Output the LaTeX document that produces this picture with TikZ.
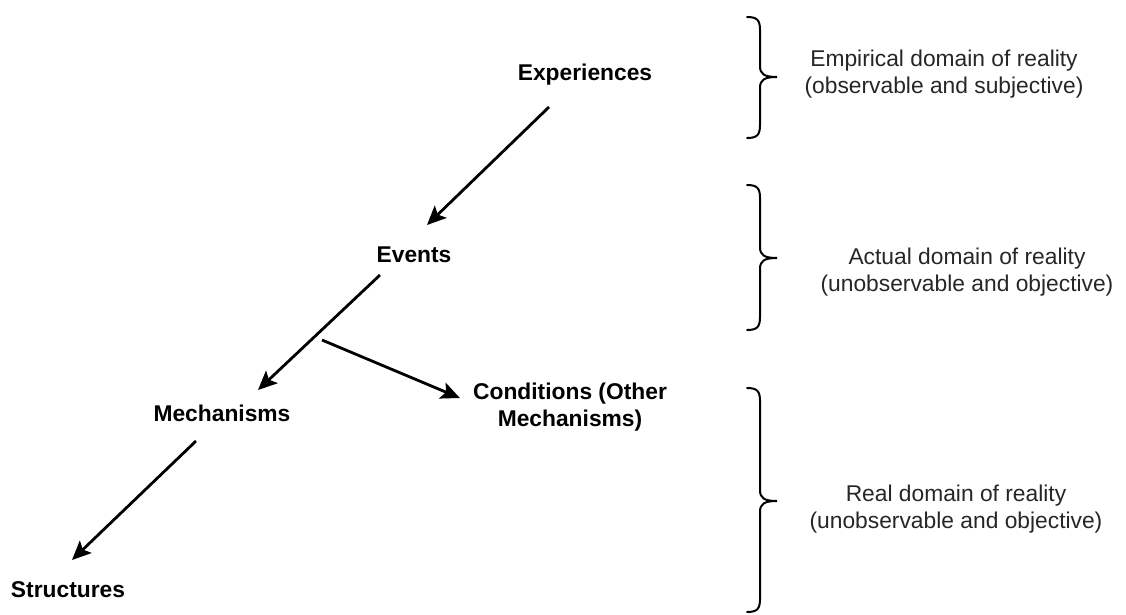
\documentclass[tikz,border=0pt]{standalone}
\usepackage{fontspec}
\setmainfont{Liberation Sans}
\usetikzlibrary{arrows.meta,calc}
\begin{document}
\begin{tikzpicture}[x=1pt,y=-1pt,
  lvl/.style={font=\fontsize{22.8}{27}\selectfont\bfseries, inner sep=0pt, align=center},
  dom/.style={font=\fontsize{22.8}{27}\selectfont, text=black!85, inner sep=0pt, align=center},
  arr/.style={line width=2.8pt, -{Stealth[length=19pt,width=17pt,inset=4pt]}},
  brc/.style={line width=2pt, line cap=round}]
\useasboundingbox (0,0) rectangle (1126,615);

% levels of the stratified ontology
\node[lvl] (exp) at (585,75) {Experiences};
\node[lvl] (ev)  at (414,255) {Events};
\node[lvl] (mech) at (222,413) {Mechanisms};
\node[lvl] (cond) at (570,407) {Conditions (Other\\Mechanisms)};
\node[lvl] (str) at (68,590) {Structures};

% causal arrows
\draw[arr] ($(exp)+(-36,32)$) -- ($(ev)+(13,-30)$);
\draw[arr] ($(ev)+(-34,20)$) -- ($(mech)+(36,-23)$);
\coordinate (branch) at ($(ev)+(-92,85)$);
\draw[arr] (branch) -- ($(cond.west)+(-13,-9)$);
\draw[arr] ($(mech)+(-26,28)$) -- ($(str)+(4,-30)$);

% domain labels
\node[dom] (emp) at (944,74) {Empirical domain of reality\\(observable and subjective)};
\node[dom] (act) at (967,272) {Actual domain of reality\\(unobservable and objective)};
\node[dom] (real) at (956,509) {Real domain of reality\\(unobservable and objective)};

% curly braces grouping the domains
\foreach \t/\m/\b in {17/77/138, 185/258/330, 388/501/612}{
  \draw[brc] (747,\t) .. controls (757,\t) and (760,\t+3) .. (760,\t+13)
    -- (760,\m-11) .. controls (760,\m-3) and (764,\m) .. (777,\m)
    .. controls (764,\m) and (760,\m+3) .. (760,\m+11)
    -- (760,\b-13) .. controls (760,\b-3) and (757,\b) .. (747,\b);
}
\end{tikzpicture}
\end{document}
